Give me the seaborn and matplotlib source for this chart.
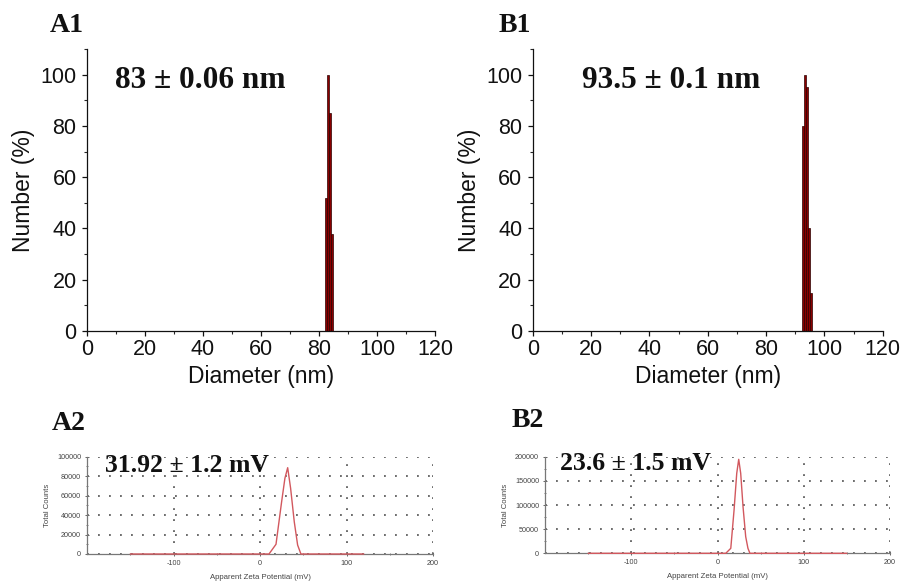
import numpy as np
import pandas as pd
import matplotlib
matplotlib.use("Agg")
import matplotlib.pyplot as plt
from matplotlib.ticker import MultipleLocator, FixedLocator
import seaborn as sns

# ---- size distribution (DLS, number %) ----
a1_diameter = [82.45, 83.15, 83.85, 84.55]
a1_number = [52, 100, 85, 38]
b1_diameter = [92.54, 93.22, 93.90, 94.58, 95.26]
b1_number = [80, 100, 95, 40, 15]
bin_width_a1 = 0.70
bin_width_b1 = 0.68

# ---- zeta potential traces ----
a2_potential = [-150, 10.4, 18.5, 25.0, 28.8, 32.0, 35.4, 39.6, 43.5, 47.3, 120]
a2_counts = [0, 0, 10000, 53700, 77800, 88700, 67500, 33200, 9200, 0, 0]
b2_potential = [-150, 9.6, 15.4, 19.2, 22.3, 24.6, 26.9, 29.6, 32.7, 35.3, 37.6, 150]
b2_counts = [0, 0, 10300, 89600, 165600, 194600, 165600, 96500, 34400, 10300, 0, 0]

size_ticks = [0, 20, 40, 60, 80, 100, 120]
number_ticks = [0, 20, 40, 60, 80, 100]
zeta_ticks = [-100, 0, 100, 200]
a2_count_ticks = [0, 20000, 40000, 60000, 80000, 100000]
b2_count_ticks = [0, 50000, 100000, 150000, 200000]

panel_labels = ["A1", "B1", "A2", "B2"]
size_notes = ["83 ± 0.06 nm", "93.5 ± 0.1 nm"]
zeta_notes = ["31.92 ± 1.2 mV", "23.6 ± 1.5 mV"]

sns.set_theme(style="ticks")
plt.rcParams["font.family"] = ["Liberation Sans", "DejaVu Sans"]

W, H = 906, 587
fig = plt.figure(figsize=(W / 100, H / 100), dpi=100)
fig.patch.set_facecolor("white")


def px_axes(l, t, r, b):
    return fig.add_axes([l / W, 1 - b / H, (r - l) / W, (b - t) / H])


def size_panel(ax, diam, num, width):
    df = pd.DataFrame({"diameter": diam, "number": num})
    edges = [d - width / 2 for d in diam] + [diam[-1] + width / 2]
    sns.histplot(data=df, x="diameter", weights="number", bins=edges, ax=ax,
                 stat="count", color="#8b0000", edgecolor="#2a0000",
                 linewidth=0.5, alpha=1.0)
    ax.set_xlim(0, 120)
    ax.set_ylim(0, 110)
    ax.xaxis.set_major_locator(FixedLocator(size_ticks))
    ax.xaxis.set_minor_locator(MultipleLocator(10))
    ax.yaxis.set_major_locator(FixedLocator(number_ticks))
    ax.yaxis.set_minor_locator(MultipleLocator(10))
    ax.set_xlabel("Diameter (nm)", fontsize=16.5, color="#111", labelpad=4)
    ax.set_ylabel("Number (%)", fontsize=16.5, color="#111", labelpad=4)
    ax.tick_params(which="major", labelsize=15.5, length=3.5, width=0.9,
                   colors="#111", direction="out")
    ax.tick_params(axis="y", which="major", pad=4)
    ax.tick_params(axis="x", which="major", pad=2)
    ax.tick_params(which="minor", length=2.5, width=0.8, direction="out")
    for s in ("top", "right"):
        ax.spines[s].set_visible(False)
    for s in ("left", "bottom"):
        ax.spines[s].set_color("#111")
        ax.spines[s].set_linewidth(0.9)
    ax.set_facecolor("white")


def zeta_panel(ax, pot, cnt, yticks, ymax, yminor):
    ax.set_facecolor("white")
    df = pd.DataFrame({"potential": pot, "counts": cnt})
    sns.lineplot(data=df, x="potential", y="counts", ax=ax, color="#d2585e",
                 linewidth=1.0, estimator=None, sort=False, zorder=5, clip_on=False)
    ax.set_xlim(-200, 200)
    ax.set_ylim(0, ymax)
    ax.xaxis.set_major_locator(FixedLocator(zeta_ticks))
    ax.xaxis.set_minor_locator(FixedLocator([-150, -50, 50, 150]))
    ax.yaxis.set_major_locator(FixedLocator(yticks))
    ax.yaxis.set_minor_locator(MultipleLocator(yminor))
    ax.set_yticklabels([str(v) for v in yticks])
    ax.set_xticklabels([str(v) for v in zeta_ticks])
    ax.grid(True, which="major", color="#444444", linestyle=(0, (1.2, 6)), linewidth=1.1)
    ax.set_xlabel("Apparent Zeta Potential (mV)", fontsize=5.6, color="#444", labelpad=5)
    ax.set_ylabel("Total Counts", fontsize=5.6, color="#444", labelpad=4)
    ax.tick_params(which="major", labelsize=5.2, labelcolor="#444", length=2.5,
                   width=0.7, color="#666", pad=3, direction="inout")
    ax.tick_params(which="minor", length=2.0, width=0.6, color="#666", direction="inout")
    for s in ("top", "right"):
        ax.spines[s].set_visible(False)
    for s in ("left", "bottom"):
        ax.spines[s].set_color("#777")
        ax.spines[s].set_linewidth(0.9)


ax_a1 = px_axes(87, 49, 435, 331)
ax_b1 = px_axes(532.7, 49, 882.7, 331)
ax_a2 = px_axes(87, 456.7, 433, 554)
ax_b2 = px_axes(545, 456.7, 890, 553.3)

size_panel(ax_a1, a1_diameter, a1_number, bin_width_a1)
size_panel(ax_b1, b1_diameter, b1_number, bin_width_b1)
zeta_panel(ax_a2, a2_potential, a2_counts, a2_count_ticks, 100000, 10000)
zeta_panel(ax_b2, b2_potential, b2_counts, b2_count_ticks, 200000, 25000)

serif = ["Liberation Serif", "DejaVu Serif"]

# panel letters
for lab, (x, y) in zip(panel_labels, [(50, 32), (499, 32), (52, 430), (512, 427)]):
    fig.text(x / W, 1 - y / H, lab, family=serif, fontweight="bold",
             fontsize=20, va="baseline", ha="left", color="#111")

# mean size / zeta annotations
for note, (x, y) in zip(size_notes, [(115, 88), (582, 88)]):
    fig.text(x / W, 1 - y / H, note, family=serif, fontweight="bold",
             fontsize=22.5, va="baseline", ha="left", color="#111")
for note, (x, y) in zip(zeta_notes, [(105, 472), (560, 470)]):
    fig.text(x / W, 1 - y / H, note, family=serif, fontweight="bold",
             fontsize=18.5, va="baseline", ha="left", color="#111")

fig.savefig("out.png", dpi=100, facecolor="white")
